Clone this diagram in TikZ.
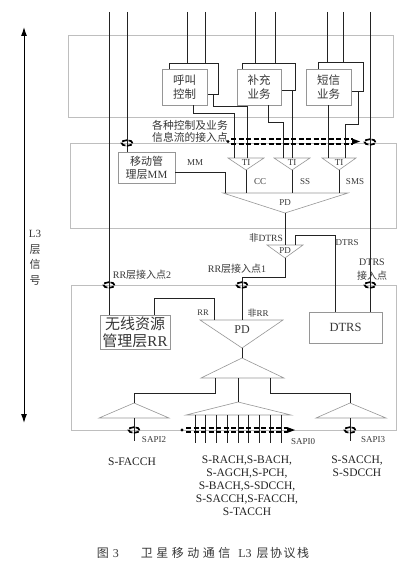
\documentclass[tikz,border=0pt]{standalone}
\usepackage{fontspec}
\setmainfont{Liberation Serif}
\newfontfamily\cjk{Noto Sans CJK SC}
\newcommand\rmtxt[1]{{\rmfamily #1}}
\usetikzlibrary{arrows.meta}
\definecolor{inkgrey}{RGB}{35,35,35}
\definecolor{textgrey}{RGB}{55,55,55}
\definecolor{layergrey}{RGB}{190,190,190}
\definecolor{entgrey}{RGB}{150,150,150}
\tikzset{
  layerbox/.style={draw=layergrey,line width=0.7pt},
  entity/.style={draw=entgrey,fill=white,line width=0.7pt,inner sep=0pt,
    align=center,text=textgrey},
  svcbox/.style={entity,minimum width=45pt,minimum height=36pt,
    font=\cjk\fontsize{11.5}{13.5}\selectfont},
  backbox/.style={draw=inkgrey,line width=0.9pt,inner sep=0pt},
  wire/.style={draw=inkgrey,line width=1pt},
  tri/.style={draw=entgrey,line width=0.6pt},
  sapring/.style={draw=black,line width=1.7pt,dash pattern=on 5pt off 1.5pt},
  sapdash/.style={draw=black,line width=1.5pt,dash pattern=on 5pt off 2.5pt},
  sigarrow/.style={<->,>={Latex[length=9pt,width=6pt]},line width=1pt,draw=black},
  tag/.style={inner sep=0pt,text=textgrey,font=\fontsize{9}{10}\selectfont},
  cjktag/.style={inner sep=0pt,text=textgrey,align=center,
    font=\cjk\fontsize{10}{11.5}\selectfont},
  chan/.style={inner sep=0pt,align=center,text=inkgrey,
    font=\fontsize{11.5}{13}\selectfont}
}

\begin{document}
\begin{tikzpicture}[x=1pt,y=-1pt]
  \useasboundingbox (0,0) rectangle (413,564);

  % the three layers
  \draw[layerbox] (68,35) rectangle (393,117);
  \draw[layerbox] (70,143) rectangle (396,228);
  \draw[layerbox] (71,285) rectangle (396,430);

  % L3 signalling
  \coordinate (l3top) at (24,27);
  \coordinate (l3bot) at (24,423);
  \draw[sigarrow] (l3top) -- (l3bot);
  \node[cjktag,font=\cjk\fontsize{11}{15.5}\selectfont] (l3) at (35,258)
    {\rmtxt{L3}\\层\\信\\号};

  % services
  \node[backbox,minimum width=49pt,minimum height=31pt] (callbk) at (193.5,78.5) {};
  \node[backbox,minimum width=53pt,minimum height=27pt] (suppbk) at (268.5,76.5) {};
  \node[backbox,minimum width=45pt,minimum height=29pt] (smsbk) at (340.5,76.5) {};
  \node[svcbox] (call) at (184.5,87) {呼叫\\控制};
  \node[svcbox,minimum width=44pt] (supp) at (259,87) {补充\\业务};
  \node[svcbox] (sms) at (328.5,87) {短信\\业务};

  \node[entity,minimum width=57pt,minimum height=31pt,
    font=\cjk\fontsize{11}{13}\selectfont] (mm) at (146.5,167.5)
    {移动管\\理层\rmtxt{MM}};
  \node[entity,minimum width=70pt,minimum height=34pt,
    font=\cjk\fontsize{15}{17}\selectfont] (rrm) at (135,332)
    {无线资源\\管理层\rmtxt{RR}};
  \node[entity,minimum width=73pt,minimum height=31pt,
    font=\fontsize{12.5}{14}\selectfont] (dtrs) at (345.5,327.5) {DTRS};

  % lines from above
  \foreach \x/\n [count=\i] in {187/callbk,205/callbk,255/suppbk,275/suppbk,327/smsbk,343/smsbk}{
    \coordinate (in\i) at (\x,12);
    \draw[wire] (in\i) -- (in\i |- \n.north);
  }
  \coordinate (rrup) at (109,12);
  \coordinate (mmup) at (127,12);
  \coordinate (dtrsup) at (370,12);
  \draw[wire] (rrup) -- (rrup |- rrm.north);
  \draw[wire] (mmup) -- (mmup |- mm.north);
  \draw[wire] (dtrsup) -- (dtrsup |- dtrs.north);

  % TI entities
  \foreach \n/\l/\a/\r in {1/228/246/264,2/274/292/310,3/322/339/356}{
    \coordinate (til\n) at (\l,158);
    \coordinate (tia\n) at (\a,170);
    \draw[tri] (til\n) -- (\r,158) -- (tia\n) -- cycle;
    \node[tag] (ti\n) at (\a,162.5) {TI};
  }
  \draw[wire] (call.south -| 193,0) |- (234,114) -- (234,0 |- til1);
  \draw[wire] (callbk.south -| 213,0) |- (247,107) -- (247,0 |- til1);
  \draw[wire] (supp.south -| 268,0) |- (283,123) -- (283,0 |- til2);
  \draw[wire] (suppbk.south -| 292,0) -- (292,0 |- til2);
  \draw[wire] (sms.south -| 328,0) -- (328,0 |- til3);
  \draw[wire] (smsbk.south -| 358,0) |- (345,125) -- (345,0 |- til3);

  % PD of the upper layer
  \coordinate (pdl) at (223,193);
  \coordinate (pdr) at (348,193);
  \coordinate (pda) at (285,213);
  \draw[tri] (pdl) -- (pdr) -- (pda) -- cycle;
  \node[tag] (pd) at (285,203) {PD};
  \foreach \n in {1,2,3}
    \draw[wire] (tia\n) -- (tia\n |- pdl);
  \draw[wire] (mm.east |- 0,172) -| (225,0 |- pdl);
  \node[tag] (cc) at (260,182) {CC};
  \node[tag] (ss) at (305,182) {SS};
  \node[tag] (smslbl) at (355,182) {SMS};
  \node[tag] (mmlbl) at (195,163) {MM};

  % service access point
  \coordinate (apl) at (228,141.5);
  \coordinate (apr) at (360,141.5);
  \fill[black] (apl) circle (1.7pt);
  \draw[sapdash] (231,139) -- (353,139);
  \draw[sapdash] (231,144) -- (353,144);
  \fill[black] (apr) -- ++(-8,-3) -- ++(0,6) -- cycle;
  \node[cjktag,font=\cjk\fontsize{10.8}{12}\selectfont] (aplbl) at (190,131)
    {各种控制及业务\\信息流的接入点};

  % PD towards DTRS
  \coordinate (pd2l) at (267,245);
  \coordinate (pd2r) at (303,245);
  \coordinate (pd2a) at (285,258);
  \draw[tri] (pd2l) -- (pd2r) -- (pd2a) -- cycle;
  \node[tag] (pd2) at (285,251) {PD};
  \draw[wire] (pda) -- (pda |- pd2l);
  \draw[wire] (295,0 |- pd2l) |- (335,235) -- (335,0 |- dtrs.north);
  \node[cjktag,font=\cjk\fontsize{9.5}{11}\selectfont,anchor=east] (ndtrs) at (283,238)
    {非\rmtxt{DTRS}};
  \node[tag] (dtrslbl) at (347,242.5) {DTRS};

  % PD of the RR layer
  \coordinate (rpdl) at (200,320);
  \coordinate (rpdr) at (283,320);
  \coordinate (rpda) at (242,348);
  \draw[tri] (rpdl) -- (rpdr) -- (rpda) -- cycle;
  \node[tag,font=\fontsize{12}{14}\selectfont] (rpd) at (242,330) {PD};
  \draw[wire] (pd2a) |- (242,277) -- (242,0 |- rpdl);
  \draw[wire] (214,0 |- rpdl) |- (154,298) -- (rrm.north -| 154,0);
  \node[tag,font=\fontsize{8.5}{10}\selectfont] (rrlbl) at (203,313) {RR};
  \node[cjktag,font=\cjk\fontsize{9}{10}\selectfont] (nrrlbl) at (258,313)
    {非\rmtxt{RR}};

  % RR access points
  \node[cjktag] (rr1lbl) at (237,268.5) {\rmtxt{RR}层接入点\rmtxt{1}};
  \node[cjktag] (rr2lbl) at (142,274.5) {\rmtxt{RR}层接入点\rmtxt{2}};
  \node[cjktag,font=\cjk\fontsize{10}{14}\selectfont] (dtrsap) at (372,270)
    {\rmtxt{DTRS}\\接入点};
  \foreach \p in {(127,143),(370,142),(109,285),(242,285),(370,285)}
    \draw[sapring] \p ellipse (5.5pt and 2.8pt);

  % multiplexing towards the SAPIs
  \coordinate (upa) at (242,358);
  \coordinate (upl) at (201,378);
  \draw[tri] (upa) -- (284,378) -- (upl) -- cycle;
  \draw[wire] (rpda) -- (upa);
  \coordinate (ltria) at (134,403);
  \coordinate (mtria) at (238,402);
  \coordinate (rtria) at (350,403);
  \draw[tri] (ltria) -- (169,418) -- (99,418) -- cycle;
  \draw[tri] (mtria) -- (291,415) -- (186,415) -- cycle;
  \draw[tri] (rtria) -- (386,418) -- (316,418) -- cycle;
  \draw[wire] (215,0 |- upl) |- (134,393) -- (ltria);
  \draw[wire] (238,0 |- upl) -- (mtria);
  \draw[wire] (270,0 |- upl) |- (350,393) -- (rtria);

  \draw[wire] (134,418) -- ++(0,23);
  \draw[wire] (350,418) -- ++(0,23);
  \foreach \x in {195,205.75,...,281}
    \draw[wire] (\x,415) -- ++(0,28);
  \draw[sapring] (134,430) ellipse (5.5pt and 2.8pt);
  \draw[sapring] (350,430) ellipse (5.5pt and 2.8pt);
  \fill[black] (182,430) circle (1.7pt);
  \draw[sapdash] (186,428) -- (287,428);
  \draw[sapdash] (186,432) -- (287,432);
  \fill[black] (295,430) -- ++(-8,-3) -- ++(0,6) -- cycle;

  \node[tag] (sapi2) at (154,440) {SAPI2};
  \node[tag] (sapi0) at (303,442) {SAPI0};
  \node[tag] (sapi3) at (373,440) {SAPI3};

  % channels
  \node[chan] (chfa) at (132,462) {S-FACCH};
  \node[chan] (chmid) at (247,486)
    {S-RACH,S-BACH,\\S-AGCH,S-PCH,\\S-BACH,S-SDCCH,\\S-SACCH,S-FACCH,\\S-TACCH};
  \node[chan] (chsa) at (357,466) {S-SACCH,\\S-SDCCH};

  \node[text=textgrey,inner sep=0pt,font=\cjk\fontsize{12}{14}\selectfont] (caption)
    at (203,553) {图\hspace{4pt}\rmtxt{3}\hspace{22pt}卫\hspace{3.5pt}星\hspace{3.5pt}移\hspace{3.5pt}动\hspace{3.5pt}通\hspace{3.5pt}信\hspace{8pt}\rmtxt{L3}\hspace{5pt}层\hspace{1.5pt}协\hspace{1.5pt}议\hspace{1.5pt}栈};
\end{tikzpicture}
\end{document}
